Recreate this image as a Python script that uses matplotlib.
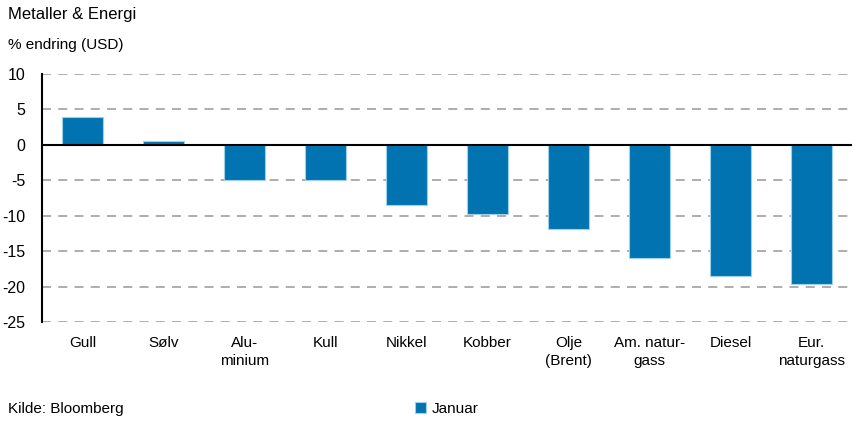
import matplotlib
matplotlib.use("Agg")
import matplotlib.pyplot as plt
import numpy as np

categories = ["Gull", "Sølv", "Alu-\nminium", "Kull", "Nikkel", "Kobber",
              "Olje\n(Brent)", "Am. natur-\ngass", "Diesel", "Eur.\nnaturgass"]
januar = [3.9, 0.5, -4.9, -4.9, -8.5, -9.7, -11.9, -15.9, -18.5, -19.6]
yticks = [10, 5, 0, -5, -10, -15, -20, -25]

plt.rcParams['font.family'] = ['Liberation Sans', 'DejaVu Sans']
bar_color = "#0173B1"
grid_color = "#ADA6A2"

fig = plt.figure(figsize=(8.54, 4.25), dpi=100)
W, H = 854, 425
ax = fig.add_axes([42 / W, 1 - 322 / H, (852 - 42) / W, (322 - 74) / H])

x = np.arange(len(categories))
ax.bar(x, januar, width=0.5, color=bar_color, edgecolor="#9FD0EA", linewidth=0.8,
       label="Januar", zorder=3)

ax.set_xlim(-0.5, len(categories) - 0.5)
ax.set_ylim(-25, 10)
ax.set_yticks(yticks)
ax.set_yticklabels([str(t) for t in yticks], fontsize=11.5)
for t in yticks:
    if t != 0:
        ax.axhline(t, color=grid_color, linestyle=(0, (5, 4)), linewidth=1.3, zorder=1)
ax.axhline(0, color="black", linewidth=1.5, zorder=4)

ax.set_xticks(x)
ax.set_xticklabels(categories, fontsize=11, linespacing=1.35, va="top")
ax.tick_params(axis="both", length=0)
ax.tick_params(axis="x", pad=10)
ax.tick_params(axis="y", pad=12)

for s in ["top", "right", "bottom"]:
    ax.spines[s].set_visible(False)
ax.spines["left"].set_color("black")
ax.spines["left"].set_linewidth(1.5)
ax.spines["left"].set_zorder(5)

fig.text(8 / W, 1 - 15 / H, "Metaller & Energi", fontsize=12, va="center", ha="left")
fig.text(8 / W, 1 - 45 / H, "% endring (USD)", fontsize=11, va="center", ha="left")
fig.text(8 / W, 1 - 409 / H, "Kilde: Bloomberg", fontsize=11, va="center", ha="left")

leg = fig.legend(loc="center", bbox_to_anchor=(447 / W, 1 - 409 / H), frameon=False,
                 fontsize=11, handlelength=0.7, handleheight=0.7, handletextpad=0.4)

fig.savefig("out.png", dpi=100)
